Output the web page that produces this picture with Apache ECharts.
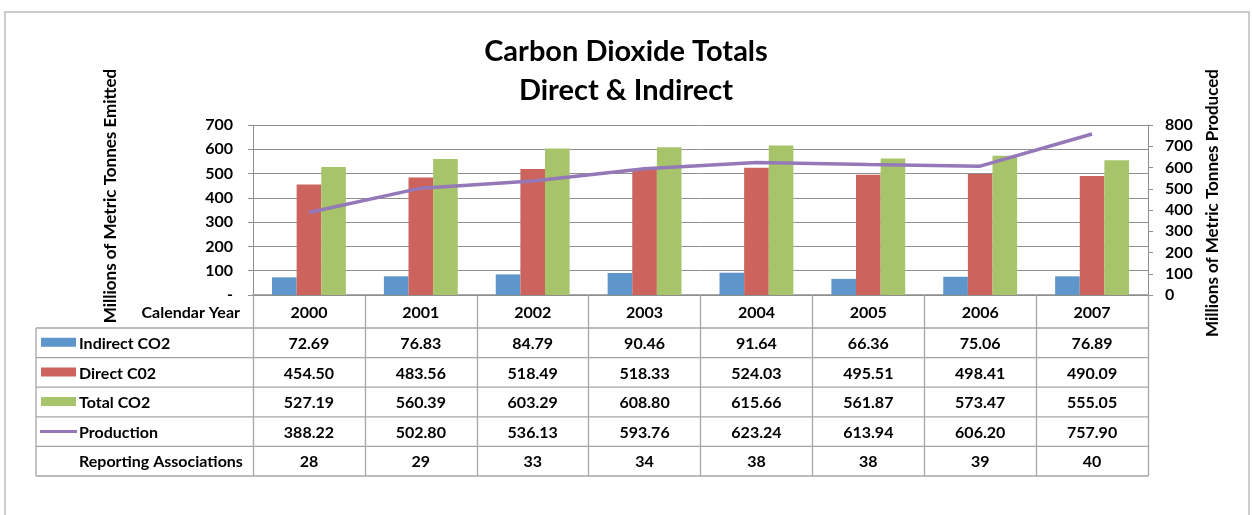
<!DOCTYPE html>
<html>
<head>
<meta charset="utf-8">
<script src="https://cdn.jsdelivr.net/npm/echarts@6/dist/echarts.min.js"></script>
<style>
html,body{margin:0;padding:0;background:#fff;}
#chart{width:1252px;height:515px;}
</style>
</head>
<body>
<div id="chart"></div>
<script>
// ---- data ----
const years = ['2000', '2001', '2002', '2003', '2004', '2005', '2006', '2007'];
const indirectCO2 = [72.69, 76.83, 84.79, 90.46, 91.64, 66.36, 75.06, 76.89];
const directCO2 = [454.50, 483.56, 518.49, 518.33, 524.03, 495.51, 498.41, 490.09];
const totalCO2 = [527.19, 560.39, 603.29, 608.80, 615.66, 561.87, 573.47, 555.05];
const production = [388.22, 502.80, 536.13, 593.76, 623.24, 613.94, 606.20, 757.90];
const reportingAssociations = [28, 29, 33, 34, 38, 38, 39, 40];
const seriesNames = ['Indirect CO2', 'Direct C02', 'Total CO2', 'Production'];
const associationsLabel = 'Reporting Associations';
const headerLabel = 'Calendar Year';
const titleText = 'Carbon Dioxide Totals\nDirect & Indirect';
const leftAxisName = 'Millions of Metric Tonnes Emitted';
const rightAxisName = 'Millions of Metric Tonnes Produced';

// ---- style ----
const FONT = 'Lato, Carlito, "Open Sans", sans-serif';
const FS = 16;
const colors = ['#5E95CA', '#CC645D', '#A8C46A', '#9478B8'];
const gridColor = '#8f8f8f';
const tableColor = '#a6a6a6';
const G = {left: 253, top: 125, width: 895, height: 170};
const headerH = 33, rowH = 29.6, tableLeft = 36;

const chart = echarts.init(document.getElementById('chart'), null, {renderer: 'canvas'});

const option = {
  animation: false,
  backgroundColor: '#fff',
  title: {
    text: titleText,
    left: 'center',
    top: 27,
    textStyle: {fontFamily: FONT, fontWeight: 'bold', fontSize: 29, lineHeight: 39, color: '#000'}
  },
  grid: {left: G.left, top: G.top, width: G.width, height: G.height, containLabel: false},
  xAxis: {
    type: 'category',
    data: years,
    boundaryGap: true,
    axisLine: {show: true, lineStyle: {color: gridColor, width: 1.5}},
    axisTick: {show: true, interval: 0, length: headerH + rowH * 5, lineStyle: {color: tableColor, width: 1.3}},
    axisLabel: {margin: 10, fontFamily: FONT, fontWeight: 'bold', fontSize: FS, color: '#000', interval: 0}
  },
  yAxis: [
    {
      type: 'value', min: 0, max: 700, interval: 100, position: 'left',
      name: leftAxisName, nameLocation: 'middle', nameRotate: 90, nameGap: 134,
      nameTextStyle: {fontFamily: FONT, fontWeight: 'bold', fontSize: 17, color: '#000', padding: [0, 0, 0, 28]},
      axisLine: {show: true, lineStyle: {color: gridColor}},
      axisTick: {show: true, length: 5, lineStyle: {color: gridColor}},
      splitLine: {show: true, lineStyle: {color: gridColor, width: 1}},
      axisLabel: {margin: 20, fontFamily: FONT, fontWeight: 'bold', fontSize: FS, color: '#000',
        formatter: v => v === 0 ? '-' : String(v)}
    },
    {
      type: 'value', min: 0, max: 800, interval: 100, position: 'right',
      name: rightAxisName, nameLocation: 'middle', nameRotate: 90, nameGap: 51,
      nameTextStyle: {fontFamily: FONT, fontWeight: 'bold', fontSize: 17, color: '#000', padding: [0, 0, 0, 14]},
      axisLine: {show: true, lineStyle: {color: gridColor}},
      axisTick: {show: true, length: 5, lineStyle: {color: gridColor}},
      splitLine: {show: false},
      axisLabel: {margin: 17, fontFamily: FONT, fontWeight: 'bold', fontSize: FS, color: '#000'}
    }
  ],
  series: [
    {name: seriesNames[0], type: 'bar', data: indirectCO2, yAxisIndex: 0, barGap: '0%', barCategoryGap: '34%', itemStyle: {color: colors[0]}},
    {name: seriesNames[1], type: 'bar', data: directCO2, yAxisIndex: 0, barGap: '0%', barCategoryGap: '34%', itemStyle: {color: colors[1]}},
    {name: seriesNames[2], type: 'bar', data: totalCO2, yAxisIndex: 0, barGap: '0%', barCategoryGap: '34%', itemStyle: {color: colors[2]}},
    {name: seriesNames[3], type: 'line', data: production, yAxisIndex: 1, showSymbol: false, symbol: 'none',
      lineStyle: {color: colors[3], width: 3.5}, itemStyle: {color: colors[3]}, z: 5}
  ]
};
chart.setOption(option);

// ---- data table under the plot ----
function buildTable() {
  const bottom = chart.convertToPixel({yAxisIndex: 0}, 0);
  const rightX = chart.convertToPixel({xAxisIndex: 0}, years[years.length - 1]) + G.width / years.length / 2;
  const tableTop = bottom + headerH;
  const rows = [
    {label: seriesNames[0], values: indirectCO2.map(v => v.toFixed(2)), key: 'rect', color: colors[0]},
    {label: seriesNames[1], values: directCO2.map(v => v.toFixed(2)), key: 'rect', color: colors[1]},
    {label: seriesNames[2], values: totalCO2.map(v => v.toFixed(2)), key: 'rect', color: colors[2]},
    {label: seriesNames[3], values: production.map(v => v.toFixed(2)), key: 'line', color: colors[3]},
    {label: associationsLabel, values: reportingAssociations.map(v => String(v)), key: null}
  ];
  const els = [];
  const txt = {fontFamily: FONT, fontWeight: 'bold', fontSize: FS, fill: '#000'};
  // outer chart border
  els.push({type: 'rect', shape: {x: 5, y: 12, width: 1244, height: 520}, style: {fill: 'none', stroke: '#bdbdbd', lineWidth: 1.5}, silent: true});
  // header label
  els.push({type: 'text', x: 240, y: bottom + headerH / 2 + 1, style: Object.assign({text: headerLabel, align: 'right', verticalAlign: 'middle'}, txt)});
  // horizontal lines
  for (let r = 0; r <= rows.length; r++) {
    const y = tableTop + r * rowH;
    els.push({type: 'line', shape: {x1: tableLeft, y1: y, x2: rightX, y2: y}, style: {stroke: tableColor, lineWidth: 1.3}});
  }
  // left border
  els.push({type: 'line', shape: {x1: tableLeft, y1: tableTop, x2: tableLeft, y2: tableTop + rowH * rows.length}, style: {stroke: tableColor, lineWidth: 1.3}});
  rows.forEach((row, r) => {
    const cy = tableTop + r * rowH + rowH / 2;
    if (row.key === 'rect') {
      els.push({type: 'rect', shape: {x: 41, y: cy - 5, width: 35, height: 9}, style: {fill: row.color}});
    } else if (row.key === 'line') {
      els.push({type: 'line', shape: {x1: 40, y1: cy, x2: 77, y2: cy}, style: {stroke: row.color, lineWidth: 3}});
    }
    els.push({type: 'text', x: 79, y: cy + 1, style: Object.assign({text: row.label, align: 'left', verticalAlign: 'middle'}, txt)});
    row.values.forEach((v, i) => {
      const cx = chart.convertToPixel({xAxisIndex: 0}, years[i]);
      els.push({type: 'text', x: cx, y: cy + 1, style: Object.assign({text: v, align: 'center', verticalAlign: 'middle'}, txt)});
    });
  });
  chart.setOption({graphic: {elements: els}});
}
buildTable();
</script>
</body>
</html>
